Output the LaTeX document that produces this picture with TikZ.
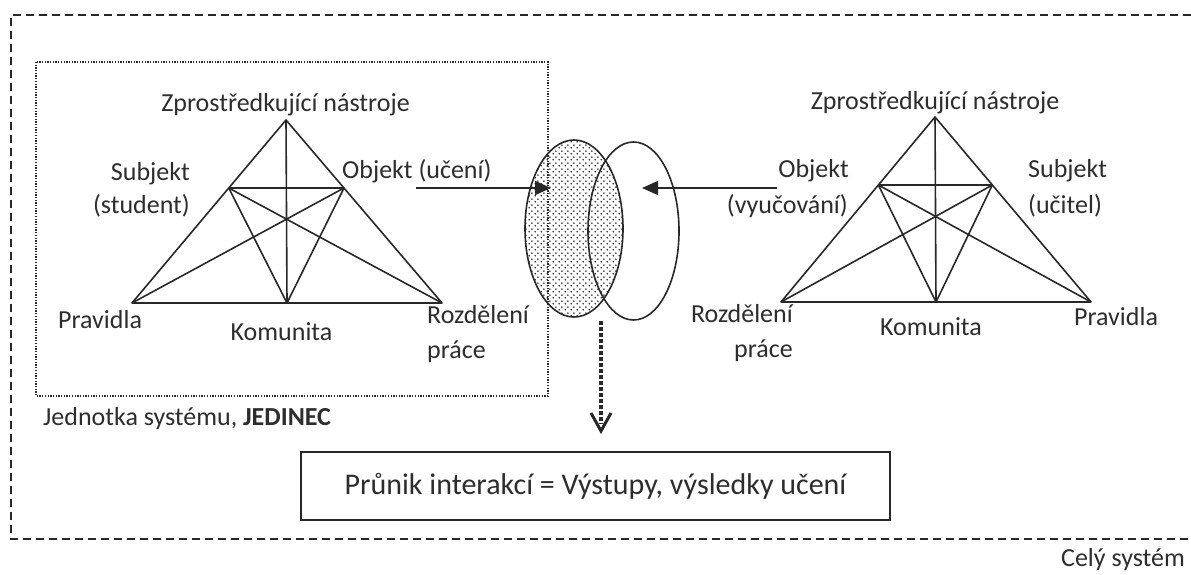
\documentclass[tikz,border=0pt]{standalone}
\usepackage{fontspec}
\setmainfont{Carlito}
\usetikzlibrary{arrows.meta,patterns,calc,shapes.geometric}
\definecolor{ln}{RGB}{40,40,40}
\definecolor{txt}{RGB}{45,45,45}
\pgfdeclarepatternformonly{mydots}{\pgfpointorigin}{\pgfqpoint{6pt}{6pt}}{\pgfqpoint{6pt}{6pt}}{%
  \pgfpathcircle{\pgfqpoint{1.5pt}{1.5pt}}{1pt}%
  \pgfpathcircle{\pgfqpoint{4.5pt}{4.5pt}}{1pt}%
  \pgfusepath{fill}}
\begin{document}
\begin{tikzpicture}[x=1pt,y=-1pt,
  lbl/.style={font=\fontsize{26}{31}\selectfont, text=txt, inner sep=0pt},
  tri/.style={draw=ln, line width=1.6pt, line join=round},
  outerframe/.style={draw=ln, line width=1.6pt, dash pattern=on 8pt off 5pt},
  innerframe/.style={draw=ln, line width=1.4pt, dash pattern=on 1.3pt off 1.4pt},
  ell/.style={draw=ln, line width=1.6pt},
  solidarrow/.style={draw=ln, line width=1.6pt, -{Triangle[length=16pt,width=14pt]}},
  dotline/.style={draw=ln, line width=4pt, dash pattern=on 3.5pt off 2.5pt},
  openhead/.style={draw=ln, line width=3pt, line join=miter},
  resbox/.style={draw=ln, line width=1.6pt, minimum width=589pt, minimum height=68pt, inner sep=0pt, font=\fontsize{30}{36}\selectfont, text=txt}
]
\useasboundingbox (0,0) rectangle (1191,575);

% outer dashed frame (open on the right)
\draw[outerframe] (1191,15) -- (11,15) -- (11,539) -- (1191,539);
% inner dotted frame
\draw[innerframe] (36,62) rectangle (548,396);

% ---- left triangle ----
\coordinate (lT) at (286,120);
\coordinate (lBL) at (132,303);
\coordinate (lBM) at (287,303);
\coordinate (lBR) at (442,303);
\coordinate (lSL) at ($(lT)!0.3716!(lBL)$);
\coordinate (lSR) at ($(lT)!0.3716!(lBR)$);
\draw[tri] (lT) -- (lBL) -- (lBR) -- cycle;
\draw[tri] (lSL) -- (lSR);
\draw[tri] (lT) -- (lBM);
\draw[tri] (lSL) -- (lBR);
\draw[tri] (lSR) -- (lBL);
\draw[tri] (lSL) -- (lBM) -- (lSR);

% ---- right triangle ----
\coordinate (rT) at (935,117);
\coordinate (rBL) at (781,302);
\coordinate (rBM) at (936,302);
\coordinate (rBR) at (1091,302);
\coordinate (rSL) at ($(rT)!0.3676!(rBL)$);
\coordinate (rSR) at ($(rT)!0.3676!(rBR)$);
\draw[tri] (rT) -- (rBL) -- (rBR) -- cycle;
\draw[tri] (rSL) -- (rSR);
\draw[tri] (rT) -- (rBM);
\draw[tri] (rSL) -- (rBR);
\draw[tri] (rSR) -- (rBL);
\draw[tri] (rSL) -- (rBM) -- (rSR);

% ---- ellipses ----
\node[ell, ellipse, minimum width=98pt, minimum height=177pt, inner sep=0pt, pattern=mydots, pattern color=ln] (eL) at (574,228.5) {};
\node[ell, ellipse, minimum width=91pt, minimum height=178pt, inner sep=0pt] (eR) at (633.5,231) {};

% ---- arrows ----
\coordinate (aLs) at (416,188);
\coordinate (aLe) at (551,188);
\coordinate (aRs) at (777,188);
\coordinate (aRe) at (642,188);
\draw[solidarrow] (aLs) -- (aLe);
\draw[solidarrow] (aRs) -- (aRe);
\coordinate (dS) at (601,321);
\coordinate (dM) at (601,424);
\coordinate (dE) at (601,431);
\draw[dotline] (dS) -- (dM);
\draw[openhead] ($(dE)+(-10,-18)$) -- (dE) -- ($(dE)+(10,-18)$);

% ---- labels left ----
\node[lbl, anchor=base] (zl) at (285.5,112) {Zprostředkující nástroje};
\node[lbl, anchor=base east] (subl1) at (190,180) {Subjekt};
\node[lbl, anchor=base east] (subl2) at (190,213) {(student)};
\node[lbl, anchor=base west] (objl) at (342,178) {Objekt (učení)};
\node[lbl, anchor=base west] (pravl) at (58,328) {Pravidla};
\node[lbl, anchor=base] (koml) at (281.5,340) {Komunita};
\node[lbl, anchor=base west] (rozl1) at (427,323) {Rozdělení};
\node[lbl, anchor=base west] (rozl2) at (427,358) {práce};
\node[lbl, anchor=base west] (jed) at (43,425) {Jednotka systému, \textbf{JEDINEC}};

% ---- labels right ----
\node[lbl, anchor=base] (zr) at (935,110) {Zprostředkující nástroje};
\node[lbl, anchor=base east] (objr1) at (849,177) {Objekt};
\node[lbl, anchor=base east] (objr2) at (848,213) {(vyučování)};
\node[lbl, anchor=base west] (subr1) at (1028,177) {Subjekt};
\node[lbl, anchor=base west] (subr2) at (1028,213) {(učitel)};
\node[lbl, anchor=base east] (rozr1) at (793,322) {Rozdělení};
\node[lbl, anchor=base east] (rozr2) at (793,357) {práce};
\node[lbl, anchor=base] (komr) at (931,335) {Komunita};
\node[lbl, anchor=base west] (pravr) at (1074,325) {Pravidla};

% ---- result box and caption ----
\node[resbox] (res) at (595.5,486) {Průnik interakcí = Výstupy, výsledky učení};
\node[lbl, anchor=base east] (cely) at (1185,566) {Celý systém};
\end{tikzpicture}
\end{document}
